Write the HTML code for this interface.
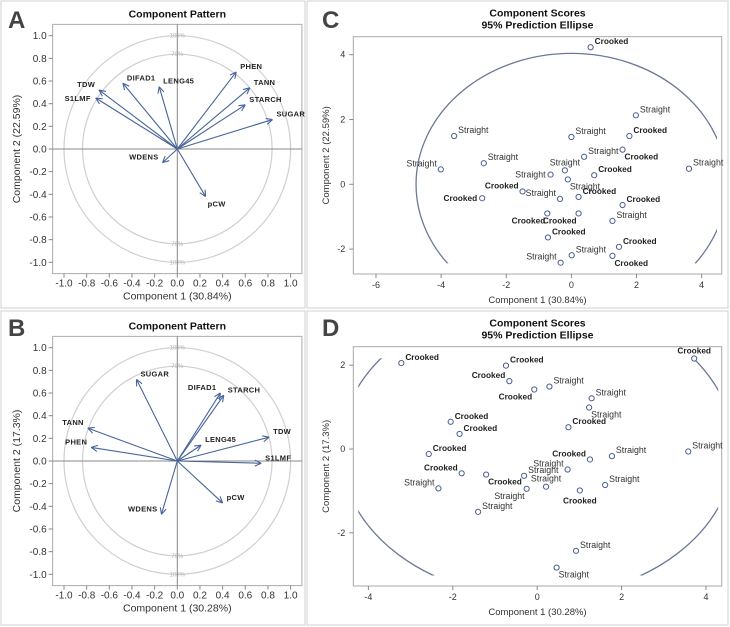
<!DOCTYPE html>
<html><head><meta charset="utf-8"><style>
html,body{margin:0;padding:0;background:#fff;}
svg{display:block;font-family:"Liberation Sans",Arial,sans-serif;}
</style></head><body>
<svg id="fig" width="730" height="627" viewBox="0 0 730 627" xmlns="http://www.w3.org/2000/svg">
<rect x="1" y="1" width="304" height="307" fill="none" stroke="#d0d0d0"/>
<rect x="307" y="1" width="421" height="307" fill="none" stroke="#d0d0d0"/>
<rect x="1" y="311" width="304" height="314" fill="none" stroke="#d0d0d0"/>
<rect x="307" y="311" width="421" height="314" fill="none" stroke="#d0d0d0"/>
<text x="8" y="28" font-size="24" font-weight="bold" fill="#444">A</text>
<text x="8" y="336" font-size="24" font-weight="bold" fill="#444">B</text>
<text x="322" y="28" font-size="24" font-weight="bold" fill="#444">C</text>
<text x="322" y="336" font-size="24" font-weight="bold" fill="#444">D</text>
</svg>
<script>
// Panel A loadings
const aVars=['TDW','S1LMF','DIFAD1','LENG45','PHEN','TANN','STARCH','SUGAR','WDENS','pCW'];
const aX=[-0.69,-0.72,-0.48,-0.16,0.52,0.64,0.60,0.84,-0.13,0.25];
const aY=[0.52,0.45,0.58,0.55,0.68,0.54,0.39,0.26,-0.12,-0.42];
const aPos=['ul','l','ur','ur','ur','ur','ur','ur','ul','lr'];
// Panel B loadings
const bVars=['SUGAR','DIFAD1','STARCH','TANN','PHEN','LENG45','TDW','S1LMF','pCW','WDENS'];
const bX=[-0.36,0.38,0.41,-0.79,-0.76,0.21,0.81,0.74,0.40,-0.14];
const bY=[0.72,0.60,0.58,0.29,0.12,0.14,0.21,-0.02,-0.37,-0.47];
const bPos=['ur','ul','ur','ul','ul','ur','ur','ur','ur','ul'];
const patternTicks=[-1.0,-0.8,-0.6,-0.4,-0.2,0.0,0.2,0.4,0.6,0.8,1.0];
// Panel C scores
const cLab=['Crooked','Straight','Straight','Straight','Crooked','Crooked','Straight','Straight','Straight','Straight','Straight','Straight','Crooked','Straight','Crooked','Crooked','Straight','Crooked','Crooked','Crooked','Crooked','Straight','Crooked','Crooked','Straight','Crooked','Straight'];
const cX=[0.59,1.98,-3.6,0.0,1.78,1.57,0.39,-2.69,-4.01,3.61,-0.2,-0.64,0.7,-0.11,-1.5,-2.74,-0.35,0.22,1.57,-0.74,0.22,1.26,-0.72,1.46,0.01,1.26,-0.33];
const cY=[4.23,2.13,1.49,1.46,1.49,1.07,0.85,0.65,0.46,0.48,0.43,0.3,0.28,0.15,-0.22,-0.43,-0.45,-0.39,-0.64,-0.9,-0.9,-1.13,-1.64,-1.93,-2.19,-2.21,-2.42];
const cPos=['ur','ur','ur','ur','ur','lr','ur','ur','ul','ur','u','l','ur','lr','ul','l','ul','ur','ur','ll','ll','ur','ur','ur','ur','lr','ul'];
const cXTicks=[-6,-4,-2,0,2,4];
const cYTicks=[-2,0,2,4];
// Panel D scores
const dLab=['Crooked','Crooked','Crooked','Crooked','Straight','Crooked','Straight','Straight','Crooked','Crooked','Crooked','Crooked','Straight','Crooked','Straight','Straight','Crooked','Crooked','Straight','Straight','Straight','Straight','Crooked','Straight','Straight','Straight','Straight'];
const dX=[-3.22,-0.74,3.72,-0.66,0.29,-0.07,1.29,1.23,-2.05,0.74,-1.84,-2.57,3.58,1.25,1.77,0.72,-1.79,-1.21,-0.31,1.61,0.21,-0.25,1.01,-2.34,-1.4,0.92,0.46];
const dY=[2.05,1.99,2.16,1.62,1.49,1.42,1.21,0.99,0.65,0.52,0.36,-0.12,-0.06,-0.25,-0.17,-0.49,-0.58,-0.61,-0.64,-0.86,-0.9,-0.95,-0.99,-0.94,-1.5,-2.43,-2.83];
const dPos=['ur','ur','u','ul','ur','ll','ur','lr','ur','ur','ur','ur','ur','ul','ur','ul','ul','lr','ur','ur','u','ll','d','ul','ur','ur','lr'];
const dXTicks=[-4,-2,0,2,4];
const dYTicks=[-2,0,2];

const NS='http://www.w3.org/2000/svg';
const svg=document.getElementById('fig');
function mk(tag,attrs,parent,text){
  const e=document.createElementNS(NS,tag);
  for(const k in attrs)e.setAttribute(k,attrs[k]);
  if(text!==undefined)e.textContent=text;
  (parent||svg).appendChild(e);
  return e;
}
const OFF={ur:['start',4,-3],ul:['end',-4,-3],lr:['start',2,10],ll:['end',-2,10],u:['middle',0,-5],d:['middle',0,13],l:['end',-5,3],r:['start',5,3]};

function pattern(id,oy,vars,xs,ys,pos,xt,yt){
  const ox=177.3,s=113.3;
  const L=ox-1.1*s,R=ox+1.1*s,T=oy-1.1*s,B=oy+1.1*s;
  const X=v=>ox+v*s, Y=v=>oy-v*s;
  const g=mk('g',{});
  
  
  const ti=mk('text',{x:ox,y:T-7,'text-anchor':'middle','font-size':10.5,'font-weight':'bold',fill:'#111'},g,'Component Pattern');
  
  
  const fr=mk('rect',{x:L,y:T,width:R-L,height:B-T,fill:'none',stroke:'#aaa'},g);
  
  
  [1,Math.sqrt(0.7)].forEach((r,i)=>{
    const c=mk('circle',{cx:ox,cy:oy,r:r*s,fill:'none',stroke:'#cfcfcf','stroke-width':1.2},g);
    
    
    [-1,1].forEach(sg=>{
      const t=mk('text',{x:ox,y:oy+sg*r*s+2,'text-anchor':'middle','font-size':6,fill:'#b0b0c0'},g,i?'70%':'100%');
      
      
    });
  });
  const ax1=mk('line',{x1:L,x2:R,y1:oy,y2:oy,stroke:'#888'},g);
  
  
  const ax2=mk('line',{x1:ox,x2:ox,y1:T,y2:B,stroke:'#888'},g);
  
  
  patternTicks.forEach(v=>{
    const lbl=v.toFixed(1);
    mk('line',{x1:L-4,x2:L,y1:Y(v),y2:Y(v),stroke:'#888'},g);
    const ty=mk('text',{x:L-6,y:Y(v)+3.5,'text-anchor':'end','font-size':10,fill:'#333'},g,lbl);
    
    
    mk('line',{x1:X(v),x2:X(v),y1:B,y2:B+4,stroke:'#888'},g);
    const tx=mk('text',{x:X(v),y:B+13,'text-anchor':'middle','font-size':10,fill:'#333'},g,lbl);
    
    
  });
  const xa=mk('text',{x:ox,y:B+26,'text-anchor':'middle','font-size':10.5,fill:'#333'},g,xt);
  
  
  const ya=mk('text',{x:0,y:0,'text-anchor':'middle','font-size':10.5,fill:'#333',transform:'translate(20,'+oy+') rotate(-90)'},g,yt);
  
  
  vars.forEach((nm,i)=>{
    const hx=X(xs[i]),hy=Y(ys[i]);
    const ag=mk('g',{stroke:'#47649a','stroke-width':1.1,fill:'none'},g);
    
    
    mk('line',{x1:ox,y1:oy,x2:hx,y2:hy},ag);
    const a=Math.atan2(hy-oy,hx-ox);
    [0.45,-0.45].forEach(d=>{
      mk('line',{x1:hx,y1:hy,x2:hx-7*Math.cos(a+d),y2:hy-7*Math.sin(a+d)},ag);
    });
    const o=OFF[pos[i]];
    const t=mk('text',{x:hx+o[1],y:hy+o[2],'text-anchor':o[0],'font-size':7.5,'font-weight':'bold',fill:'#222','letter-spacing':0.3},g,nm);
    
    
  });
}

function scores(id,F,x0,y0,sx,sy,xticks,yticks,labs,xs,ys,pos,ea,eb,clip,xt,yt){
  const X=v=>x0+v*sx, Y=v=>y0-v*sy;
  const g=mk('g',{});
  
  
  const cx=(F.l+F.r)/2;
  const t1=mk('text',{x:cx,y:F.t-20,'text-anchor':'middle','font-size':10.5,'font-weight':'bold',fill:'#111'},g,'Component Scores');
  
  
  const t2=mk('text',{x:cx,y:F.t-8,'text-anchor':'middle','font-size':10.5,'font-weight':'bold',fill:'#111'},g,'95% Prediction Ellipse');
  
  
  const fr=mk('rect',{x:F.l,y:F.t,width:F.r-F.l,height:F.b-F.t,fill:'none',stroke:'#aaa'},g);
  
  
  const cp=mk('clipPath',{id:'clip'+id},g);
  mk('rect',{x:X(clip[0]),y:Y(clip[3]),width:X(clip[1])-X(clip[0]),height:Y(clip[2])-Y(clip[3])},cp);
  const el=mk('ellipse',{cx:X(0),cy:Y(0),rx:ea*sx,ry:eb*sy,fill:'none',stroke:'#6c7896','stroke-width':1.3,'clip-path':'url(#clip'+id+')'},g);
  
  
  xticks.forEach(v=>{
    mk('line',{x1:X(v),x2:X(v),y1:F.b,y2:F.b+4,stroke:'#888'},g);
    const t=mk('text',{x:X(v),y:F.b+14,'text-anchor':'middle','font-size':9,fill:'#333'},g,String(v));
    
    
  });
  yticks.forEach(v=>{
    mk('line',{x1:F.l-4,x2:F.l,y1:Y(v),y2:Y(v),stroke:'#888'},g);
    const t=mk('text',{x:F.l-8,y:Y(v)+3,'text-anchor':'end','font-size':9,fill:'#333'},g,String(v));
    
    
  });
  const xa=mk('text',{x:cx,y:F.b+29,'text-anchor':'middle','font-size':9.5,fill:'#333'},g,xt);
  
  
  const ya=mk('text',{x:0,y:0,'text-anchor':'middle','font-size':9.5,fill:'#333',transform:'translate(329,'+((F.t+F.b)/2)+') rotate(-90)'},g,yt);
  
  
  labs.forEach((lb,i)=>{
    const px=X(xs[i]),py=Y(ys[i]);
    const c=mk('circle',{cx:px,cy:py,r:2.6,fill:'#fff',stroke:'#4a5e92','stroke-width':1},g);
    
    
    const o=OFF[pos[i]];
    const crook=lb==='Crooked';
    const t=mk('text',{x:px+o[1],y:py+o[2],'text-anchor':o[0],'font-size':crook?8.3:8.8,'font-weight':crook?'bold':'normal',fill:crook?'#222':'#333'},g,lb);
    
    
  });
}

pattern('a',149,aVars,aX,aY,aPos,'Component 1 (30.84%)','Component 2 (22.59%)');
pattern('b',461,bVars,bX,bY,bPos,'Component 1 (30.28%)','Component 2 (17.3%)');
scores('c',{l:353.3,r:721.7,t:36.7,b:274},571.4,184.3,32.57,32.4,cXTicks,cYTicks,cLab,cX,cY,cPos,4.77,4.04,[-6.5,4.47,-2.44,4.5],'Component 1 (30.84%)','Component 2 (22.59%)');
scores('d',{l:353.3,r:721.7,t:346.7,b:586},537.2,449,42.2,41.9,dXTicks,dYTicks,dLab,dX,dY,dPos,4.67,3.55,[-4.24,4.29,-3.02,2.17],'Component 1 (30.28%)','Component 2 (17.3%)');
</script>
</body></html>
